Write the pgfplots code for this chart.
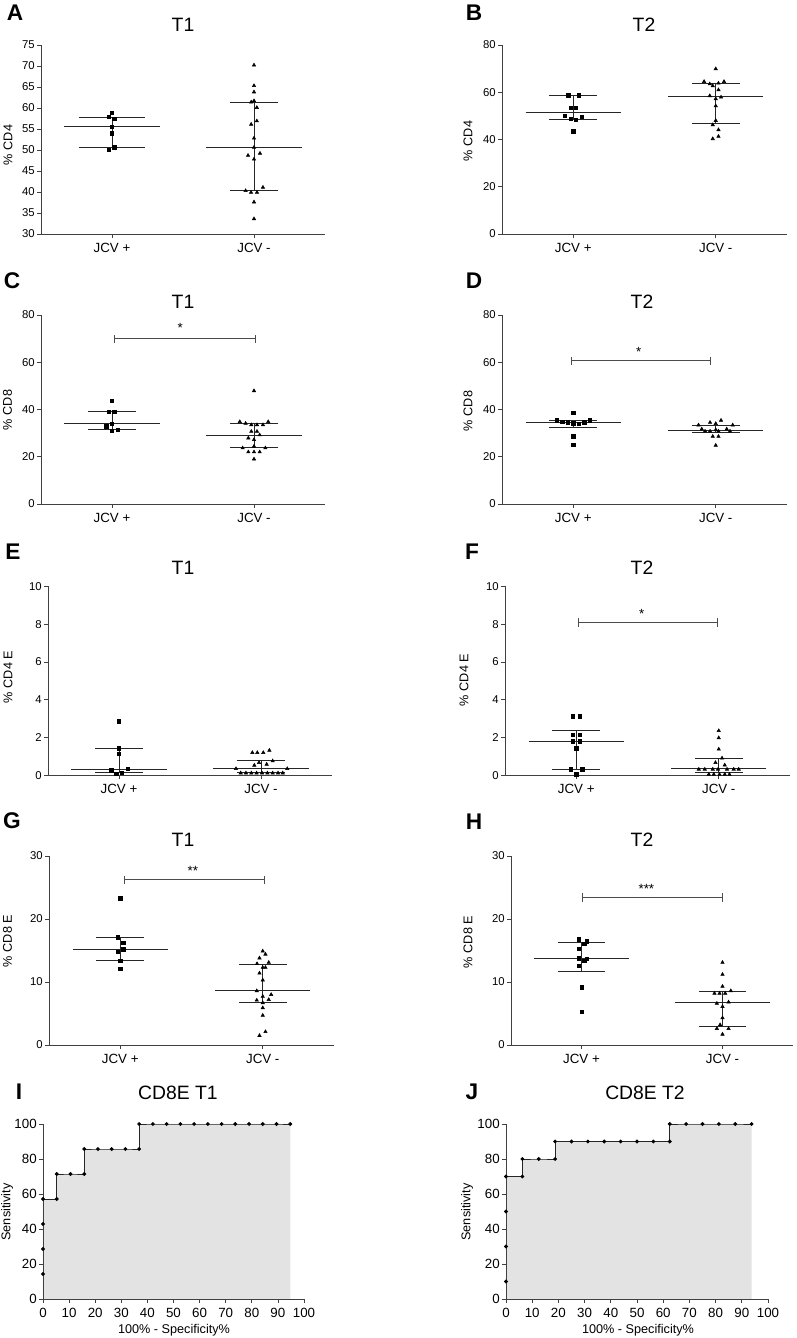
\documentclass[border=0pt]{standalone}
\usepackage{fontspec}
\setmainfont{Liberation Sans}
\usepackage{pgfplots}
\pgfplotsset{compat=1.18}

\pgfplotsset{
  base/.style={scale only axis, anchor=south west, axis lines=left,
    axis line style={-, line width=0.6pt, black!75},
    tick style={line width=0.6pt, black!75}, tick align=outside,
    major tick length=3pt, /pgf/number format/assume math mode=true,
    clip=false,
    y tick label style={font=\fontsize{8.5}{10}\selectfont, inner sep=1.5pt},
    x tick label style={font=\fontsize{10}{12}\selectfont}},
  dot/.style={base, xmin=-0.5, xmax=1.5, xtick={0,1},
    xticklabels={JCV +, JCV -}, height=141.75pt},
  roc/.style={base, xmin=0, xmax=100, ymin=0, ymax=100,
    xtick={0,10,...,100}, ytick={0,20,...,100}, height=131.25pt,
    axis on top,
    y tick label style={font=\fontsize{10}{12}\selectfont},
    x tick label style={font=\fontsize{10}{12}\selectfont}},
  med/.style={black!85, line width=0.75pt, mark=none},
  sq/.style={only marks, mark=square*, mark size=1.3pt, black},
  tri/.style={only marks, mark=triangle*, mark size=1.45pt, black},
  sig/.style={black!70, line width=0.75pt, mark=none},
}

% median + interquartile range, category 0 and 1
\newcommand\gzero[3]{%
  \addplot[med] coordinates {(-0.335,#1) (0.335,#1)};
  \addplot[med] coordinates {(-0.168,#2) (0.168,#2)};
  \addplot[med] coordinates {(-0.168,#3) (0.168,#3)};
  \addplot[med] coordinates {(0,#2) (0,#3)};}
\newcommand\gone[3]{%
  \addplot[med] coordinates {(0.665,#1) (1.335,#1)};
  \addplot[med] coordinates {(0.832,#2) (1.168,#2)};
  \addplot[med] coordinates {(0.832,#3) (1.168,#3)};
  \addplot[med] coordinates {(1,#2) (1,#3)};}
\newcommand\sigbar[5]{%
  \addplot[sig] coordinates {(#1,#3) (#2,#3)};
  \addplot[sig] coordinates {(#1,#4) (#1,#5)};
  \addplot[sig] coordinates {(#2,#4) (#2,#5)};}

\newcommand\lett[1]{\fontsize{17}{19}\selectfont\bfseries #1}
\newcommand\ttl[1]{\fontsize{14.5}{16}\selectfont #1}
\newcommand\ylab[1]{\fontsize{9.5}{11}\selectfont #1}

\begin{document}
\begin{tikzpicture}
\useasboundingbox (0,0) rectangle (597pt,1003.5pt);

% ---------- A ----------
\begin{axis}[dot, at={(30.75pt,828pt)}, width=213pt, ymin=30, ymax=75, ytick={30,35,...,75}]
\addplot[med] coordinates {(-0.335,55.5) (0.335,55.5)};
\addplot[med] coordinates {(-0.235,57.8) (0.235,57.8)};
\addplot[med] coordinates {(-0.235,50.5) (0.235,50.5)};
\addplot[med] coordinates {(0,50.5) (0,57.8)};
\gone{50.7}{40.3}{61.4}
\addplot[sq] coordinates {(0,58.9) (-0.023,57.9) (0.016,57.4) (0,55.5) (0,54.0) (0.016,50.6) (-0.023,50.0)};
\addplot[tri] coordinates {(1,70.2) (1,65.3) (1,63.8) (1,61.7) (0.98,61.4) (1.02,60.1)
 (1.02,56.9) (0.98,56.1) (1,52.8) (1,50.6) (1.042,49.2) (0.958,48.7) (1,47.8)
 (1.063,41.1) (0.941,40.3) (0.979,39.9) (1.021,39.9) (1,37.6) (1,33.6)};
\end{axis}

% ---------- B ----------
\begin{axis}[dot, at={(376.5pt,828pt)}, width=213.75pt, ymin=0, ymax=80, ytick={0,20,...,80}]
\gzero{51.5}{48.6}{58.6}
\gone{58.2}{46.9}{63.8}
\addplot[sq] coordinates {(-0.035,58.7) (0.040,58.7) (-0.019,53.5) (0.019,53.5) (-0.058,50.1)
 (0.058,49.7) (-0.019,48.7) (0.019,48.3) (0,43.5)};
\addplot[tri] coordinates {(1,69.9) (0.918,64.5) (1.058,64.5) (0.958,63.5) (1.019,63.8)
 (0.979,62.7) (1.019,61.0) (0.958,58.5) (1.037,57.9) (1,57.2) (1,54.2) (1,48.0)
 (0.979,46.2) (1.019,44.1) (1.019,41.3) (0.979,40.3)};
\end{axis}

% ---------- C ----------
\begin{axis}[dot, at={(30.75pt,625.5pt)}, width=213pt, ymin=0, ymax=80, ytick={0,20,...,80}]
\gzero{33.9}{31.7}{39.1}
\gone{29.2}{23.7}{33.9}
\sigbar{0.02}{1.01}{70}{68.3}{71.7}
\addplot[sq] coordinates {(0,43.8) (-0.023,39.0) (0.016,39.0) (0,33.9) (-0.042,32.8) (0.040,31.5) (0,31.0)};
\addplot[tri] coordinates {(1,47.9) (0.90,34.8) (0.941,34.1) (0.981,33.5) (1.021,33.5)
 (1.063,33.5) (1.10,34.8) (0.981,30.7) (1.021,30.7) (1.040,29.2) (0.960,27.9) (1,27.2)
 (1,24.4) (0.92,23.7) (1.08,23.7) (0.96,22.0) (1,22.0) (1.04,22.0) (1,19.0)};
\node[anchor=north, inner sep=0pt, font=\fontsize{10}{12}\selectfont] at (axis cs:0.48,76.4) {*};
\end{axis}

% ---------- D ----------
\begin{axis}[dot, at={(376.5pt,625.5pt)}, width=213.75pt, ymin=0, ymax=80, ytick={0,20,...,80}]
\gzero{34.4}{32.5}{35.4}
\gone{31.3}{30.3}{33.4}
\sigbar{-0.014}{0.96}{60.7}{59.0}{62.4}
\addplot[sq] coordinates {(0,38.5) (-0.117,35.4) (-0.077,34.9) (-0.040,34.5) (0,34.2)
 (0.040,33.9) (0.077,34.5) (0.117,35.4) (0,28.6) (0,25.1)};
\addplot[tri] coordinates {(1.037,35.4) (0.960,34.5) (1,34.0) (0.879,33.4) (1.119,33.4)
 (0.902,31.7) (0.925,30.8) (0.960,30.8) (1,31.4) (1.019,30.8) (1.077,31.7) (1.10,30.8)
 (0.979,28.6) (1.019,28.6) (1,24.8)};
\node[anchor=north, inner sep=0pt, font=\fontsize{10}{12}\selectfont] at (axis cs:0.46,66.4) {*};
\end{axis}

% ---------- E ----------
\begin{axis}[dot, at={(36pt,422pt)}, width=213pt, ymin=0, ymax=10, ytick={0,2,...,10}]
\gzero{0.33}{0.16}{1.43}
\gone{0.37}{0.14}{0.76}
\addplot[sq] coordinates {(0,2.85) (0,1.43) (0,1.13) (-0.056,0.26) (0.061,0.35) (0.021,0.14) (-0.019,0.09)};
\addplot[tri] coordinates {(0.939,1.20) (0.974,1.20) (1.016,1.20) (1.059,1.32)
 (0.986,0.67) (0.953,0.53) (1.040,0.58) (1.082,0.76) (0.824,0.35) (1.185,0.35)
 (0.857,0.12) (0.894,0.12) (0.932,0.12) (0.969,0.12) (1.007,0.12) (1.045,0.12) (1.082,0.12) (1.120,0.12) (1.153,0.12)};
\end{axis}

% ---------- F ----------
\begin{axis}[dot, at={(378.75pt,422pt)}, width=213.75pt, ymin=0, ymax=10, ytick={0,2,...,10}]
\gzero{1.80}{0.32}{2.38}
\gone{0.35}{0.14}{0.88}
\sigbar{0.014}{0.99}{8.09}{7.87}{8.31}
\addplot[sq] coordinates {(-0.023,3.12) (0.023,3.12) (-0.023,2.15) (0.023,2.15) (-0.023,1.80)
 (0.023,1.80) (0,1.42) (-0.040,0.32) (0.042,0.32) (0,0.05)};
\addplot[tri] coordinates {(1,2.36) (1,1.98) (1,1.38) (1.023,0.91) (0.977,0.67) (1.042,0.54)
 (0.860,0.32) (0.902,0.32) (0.958,0.32) (0.995,0.32) (1.058,0.32) (1.105,0.32) (1.140,0.32)
 (0.930,0.05) (0.965,0.05) (1.005,0.05) (1.042,0.05) (1.075,0.05)};
\node[anchor=north, inner sep=0pt, font=\fontsize{10}{12}\selectfont] at (axis cs:0.46,8.78) {*};
\end{axis}

% ---------- G ----------
\begin{axis}[dot, at={(36.75pt,219.75pt)}, width=213.75pt, ymin=0, ymax=30, ytick={0,10,...,30}]
\gzero{15.2}{13.4}{17.1}
\gone{8.6}{6.8}{12.8}
\sigbar{0.03}{1.01}{26.2}{25.55}{26.85}
\addplot[sq] coordinates {(0,23.3) (-0.019,17.1) (0.021,16.2) (0.021,15.2) (-0.019,14.8) (0,13.4) (0,12.1)};
\addplot[tri] coordinates {(1,14.9) (1.019,14.4) (0.977,13.8) (1.042,13.1) (0.960,12.9)
 (1,12.3) (1.019,12.3) (0.977,11.4) (1,10.3) (0.958,8.6) (1,7.7) (1.059,8.0) (0.958,7.1)
 (1.042,7.2) (1,6.7) (1,5.9) (1,4.7) (1.019,2.1) (0.977,1.5)};
\node[anchor=north, inner sep=0pt, font=\fontsize{10}{12}\selectfont] at (axis cs:0.51,28.4) {**};
\end{axis}

% ---------- H ----------
\begin{axis}[dot, at={(383.25pt,219.75pt)}, width=211.5pt, ymin=0, ymax=30, ytick={0,10,...,30}]
\gzero{13.8}{11.7}{16.2}
\gone{6.7}{2.9}{8.5}
\sigbar{0.007}{1.0}{23.4}{22.75}{24.05}
\addplot[sq] coordinates {(-0.021,16.8) (0.038,16.5) (0.019,16.1) (-0.021,15.3) (-0.021,13.8)
 (0.038,13.7) (0.019,13.4) (-0.021,12.6) (0,9.2) (0,5.3)};
\addplot[tri] coordinates {(1,13.1) (1,11.2) (1,9.3) (0.943,8.2) (0.979,8.2) (1.019,8.2)
 (1.059,8.6) (1.043,6.8) (0.960,6.6) (1,6.1) (1,4.3) (0.983,3.2) (0.960,2.6) (1.043,2.6) (1,1.7)};
\node[anchor=north, inner sep=0pt, font=\fontsize{10}{12}\selectfont] at (axis cs:0.46,25.6) {***};
\end{axis}

% ---------- I ----------
\begin{axis}[roc, at={(32.25pt,29.25pt)}, width=195.75pt]
\addplot[fill=black!11, draw=none] coordinates {(0,14.29) (0,28.57) (0,42.86) (0,57.14)
 (5.26,57.14) (5.26,71.43) (10.53,71.43) (15.79,71.43) (15.79,85.71) (21.05,85.71)
 (26.32,85.71) (31.58,85.71) (36.84,85.71) (36.84,100) (42.11,100) (47.37,100) (52.63,100)
 (57.89,100) (63.16,100) (68.42,100) (73.68,100) (78.95,100) (84.21,100) (89.47,100) (94.74,100)} \closedcycle;
\addplot[black!85, line width=0.7pt, mark=*, mark size=1.05pt, mark options={black}] coordinates {(0,14.29) (0,28.57) (0,42.86) (0,57.14)
 (5.26,57.14) (5.26,71.43) (10.53,71.43) (15.79,71.43) (15.79,85.71) (21.05,85.71)
 (26.32,85.71) (31.58,85.71) (36.84,85.71) (36.84,100) (42.11,100) (47.37,100) (52.63,100)
 (57.89,100) (63.16,100) (68.42,100) (73.68,100) (78.95,100) (84.21,100) (89.47,100) (94.74,100)};
\end{axis}

% ---------- J ----------
\begin{axis}[roc, at={(379.5pt,29.25pt)}, width=196.5pt]
\addplot[fill=black!11, draw=none] coordinates {(0,10) (0,30) (0,50) (0,70) (6.25,70) (6.25,80)
 (12.5,80) (18.75,80) (18.75,90) (25,90) (31.25,90) (37.5,90) (43.75,90) (50,90) (56.25,90)
 (62.5,90) (62.5,100) (68.75,100) (75,100) (81.25,100) (87.5,100) (93.75,100)} \closedcycle;
\addplot[black!85, line width=0.7pt, mark=*, mark size=1.05pt, mark options={black}] coordinates {(0,10) (0,30) (0,50) (0,70) (6.25,70) (6.25,80)
 (12.5,80) (18.75,80) (18.75,90) (25,90) (31.25,90) (37.5,90) (43.75,90) (50,90) (56.25,90)
 (62.5,90) (62.5,100) (68.75,100) (75,100) (81.25,100) (87.5,100) (93.75,100)};
\end{axis}

% ---------- letters ----------
\node at (11.25pt,993.75pt) {\lett{A}};
\node at (355.5pt,993.75pt) {\lett{B}};
\node at (9pt,792.75pt) {\lett{C}};
\node at (355.5pt,792.75pt) {\lett{D}};
\node at (9.75pt,589.5pt) {\lett{E}};
\node at (354pt,589.5pt) {\lett{F}};
\node at (9pt,387.75pt) {\lett{G}};
\node at (355.5pt,387pt) {\lett{H}};
\node at (14.25pt,184.5pt) {\lett{I}};
\node at (354pt,184.5pt) {\lett{J}};

% ---------- titles ----------
\node at (137.25pt,984.75pt) {\ttl{T1}};
\node at (483pt,984.75pt) {\ttl{T2}};
\node at (137.25pt,777pt) {\ttl{T1}};
\node at (481.5pt,777pt) {\ttl{T2}};
\node at (137.25pt,577.5pt) {\ttl{T1}};
\node at (481.5pt,577.5pt) {\ttl{T2}};
\node at (137.25pt,373.5pt) {\ttl{T1}};
\node at (481.5pt,373.5pt) {\ttl{T2}};
\node at (133.5pt,183.75pt) {\ttl{CD8E T1}};
\node at (483.75pt,183.75pt) {\ttl{CD8E T2}};

% ---------- axis labels ----------
\node[rotate=90] at (6pt,894.75pt) {\ylab{\% CD4}};
\node[rotate=90] at (351pt,897.75pt) {\ylab{\% CD4}};
\node[rotate=90] at (5.6pt,696pt) {\ylab{\% CD8}};
\node[rotate=90] at (351pt,695.25pt) {\ylab{\% CD8}};
\node[rotate=90] at (6pt,495.75pt) {\ylab{\% CD4 E}};
\node[rotate=90] at (348pt,493.5pt) {\ylab{\% CD4 E}};
\node[rotate=90] at (5.6pt,297.75pt) {\ylab{\% CD8 E}};
\node[rotate=90] at (351pt,297pt) {\ylab{\% CD8 E}};
\node[rotate=90] at (5.25pt,94.5pt) {\ylab{Sensitivity}};
\node[rotate=90] at (350.25pt,94.5pt) {\ylab{Sensitivity}};
\node at (130.5pt,6pt) {\ylab{100\% - Specificity\%}};
\node at (478.5pt,6pt) {\ylab{100\% - Specificity\%}};
\end{tikzpicture}
\end{document}
